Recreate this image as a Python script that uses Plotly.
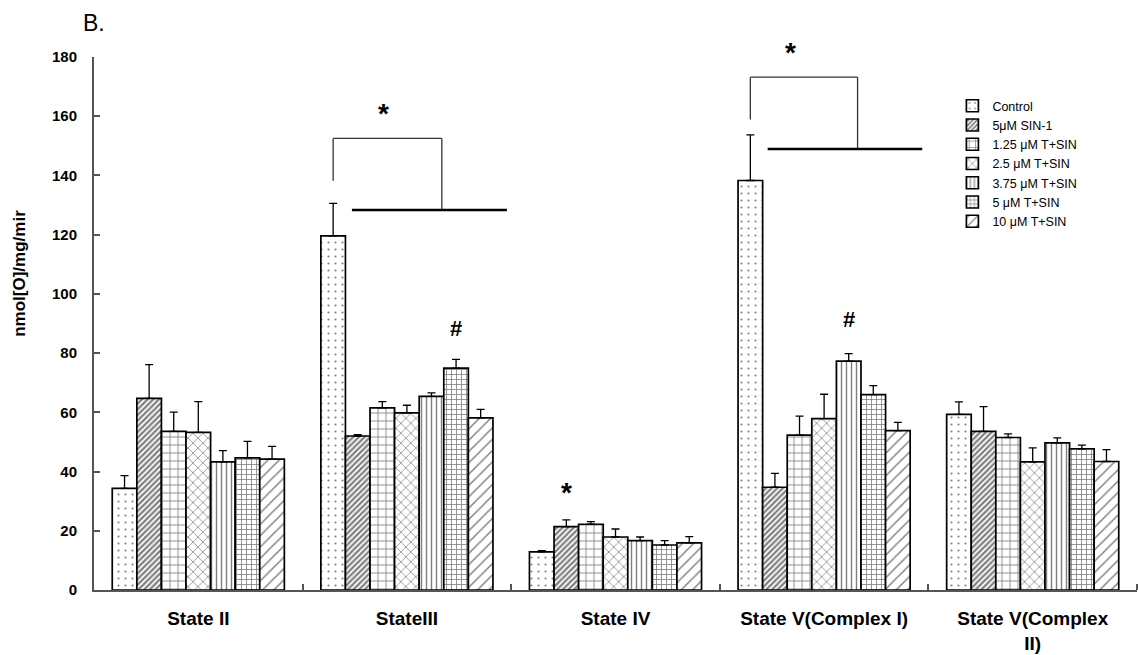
import plotly.graph_objects as go

# Respiratory states on the x axis
categories = ["State II", "StateIII", "State IV", "State V(Complex I)", "State V(Complex<br>II)"]

# Treatment groups (legend order)
treatments = ["Control", "5μM SIN-1", "1.25 μM T+SIN", "2.5 μM T+SIN",
              "3.75 μM T+SIN", "5 μM T+SIN", "10 μM T+SIN"]

# Mean values, nmol[O]/mg/min
control = [34.3, 119.6, 12.9, 138.3, 59.3]
sin1 = [64.7, 52.0, 21.4, 34.7, 53.6]
t_125 = [53.6, 61.5, 22.2, 52.3, 51.5]
t_25 = [53.2, 59.8, 17.9, 57.9, 43.3]
t_375 = [43.3, 65.4, 16.7, 77.3, 49.7]
t_5 = [44.6, 74.9, 15.2, 66.0, 47.7]
t_10 = [44.2, 58.1, 15.9, 53.8, 43.4]

# Standard errors (upper bars only)
control_err = [4.3, 11.0, 0.4, 15.4, 4.2]
sin1_err = [11.4, 0.5, 2.3, 4.7, 8.3]
t_125_err = [6.5, 2.1, 0.9, 6.4, 1.2]
t_25_err = [10.4, 2.6, 2.7, 8.2, 4.7]
t_375_err = [3.8, 1.2, 1.2, 2.5, 1.7]
t_5_err = [5.6, 3.0, 1.5, 3.0, 1.2]
t_10_err = [4.3, 2.9, 2.1, 2.8, 4.0]

y_ticks = [0, 20, 40, 60, 80, 100, 120, 140, 160, 180]

values = [control, sin1, t_125, t_25, t_375, t_5, t_10]
errors = [control_err, sin1_err, t_125_err, t_25_err, t_375_err, t_5_err, t_10_err]

# Black-and-white fill patterns, one per treatment
patterns = [
    dict(shape=".", size=7, solidity=0.07),
    dict(shape="/", size=4, solidity=0.55),
    dict(shape="+", size=8, solidity=0.2),
    dict(shape="x", size=7, solidity=0.2),
    dict(shape="|", size=5, solidity=0.28),
    dict(shape="+", size=5, solidity=0.3),
    dict(shape="/", size=8, solidity=0.18),
]

BARGAP = 0.175
n_series = len(treatments)
bar_w = (1 - BARGAP) / n_series


def bar_center(group, series):
    return group + (series - (n_series - 1) / 2) * bar_w


x_pos = list(range(len(categories)))

fig = go.Figure()
for name, vals, errs, pat in zip(treatments, values, errors, patterns):
    fig.add_trace(go.Bar(
        x=x_pos, y=vals, name=name,
        marker=dict(color="white",
                    line=dict(color="black", width=1.7),
                    pattern=dict(fgcolor="black", bgcolor="white", **pat)),
        error_y=dict(type="data", symmetric=False, array=errs,
                     arrayminus=[0] * len(errs), color="black",
                     thickness=1.3, width=4),
    ))

# Significance brackets: control vs. all treated groups
brackets = [
    dict(group=1, top=152.5, left_bottom=138.2, right_dx=0.521,
         line_y=128.3, line_dx0=0.09, line_dx1=0.833),
    dict(group=3, top=173.2, left_bottom=158.9, right_dx=0.514,
         line_y=148.9, line_dx0=0.083, line_dx1=0.824),
]
bracket_line = dict(color="#333333", width=1.3)
for b in brackets:
    x0 = bar_center(b["group"], 0)
    xr = x0 + b["right_dx"]
    fig.add_shape(type="line", x0=x0, x1=x0, y0=b["left_bottom"], y1=b["top"],
                  xref="x", yref="y", line=bracket_line)
    fig.add_shape(type="line", x0=x0, x1=xr, y0=b["top"], y1=b["top"],
                  xref="x", yref="y", line=bracket_line)
    fig.add_shape(type="line", x0=xr, x1=xr, y0=b["top"], y1=b["line_y"],
                  xref="x", yref="y", line=bracket_line)
    fig.add_shape(type="line", x0=x0 + b["line_dx0"], x1=x0 + b["line_dx1"],
                  y0=b["line_y"], y1=b["line_y"], xref="x", yref="y",
                  line=dict(color="black", width=2.5))

star_font = dict(family="Liberation Sans", size=28, color="black")
hash_font = dict(family="Liberation Sans", size=22, color="black")
marks = [
    dict(x=bar_center(1, 0) + 0.243, y=161.0 / 180, text="<b>*</b>", font=star_font),
    dict(x=bar_center(3, 0) + 0.191, y=181.4 / 180, text="<b>*</b>", font=star_font),
    dict(x=bar_center(2, 1), y=32.8 / 180, text="<b>*</b>", font=star_font),
    dict(x=bar_center(1, 5), y=88.4 / 180, text="<b>#</b>", font=hash_font),
    dict(x=bar_center(3, 4), y=91.2 / 180, text="<b>#</b>", font=hash_font),
]
for m in marks:
    fig.add_annotation(x=m["x"], y=m["y"], xref="x", yref="paper",
                       text=m["text"], font=m["font"], showarrow=False,
                       xanchor="center", yanchor="middle")

# Panel letter and y-axis title
fig.add_annotation(x=-0.0125, y=1.064, xref="paper", yref="paper", text="B.",
                   showarrow=False, xanchor="left", yanchor="middle",
                   font=dict(family="Liberation Sans", size=23, color="black"))
fig.add_annotation(x=-0.071, y=0.595, xref="paper", yref="paper",
                   text="<b>nmol[O]/mg/mir</b>", textangle=-90, showarrow=False,
                   xanchor="center", yanchor="middle",
                   font=dict(family="Liberation Sans", size=17, color="black"))

axis_color = "#555555"
fig.update_layout(
    width=1138, height=655,
    margin=dict(l=94, r=1, t=57, b=65),
    paper_bgcolor="white", plot_bgcolor="white",
    barmode="group", bargap=BARGAP, bargroupgap=0,
    font=dict(family="Liberation Sans", color="black"),
    showlegend=True,
    legend=dict(x=0.823, y=0.936, xanchor="left", yanchor="top",
                bgcolor="rgba(0,0,0,0)", borderwidth=0,
                font=dict(family="Liberation Sans", size=12.5, color="black"),
                traceorder="normal", tracegroupgap=0),
    xaxis=dict(range=[-0.5, 4.5], tickmode="array", tickvals=x_pos,
               ticktext=[f"<b>{c}</b>" for c in categories],
               ticks="", showgrid=False, zeroline=False,
               showline=True, linecolor=axis_color, linewidth=2,
               tickfont=dict(family="Liberation Sans", size=19, color="black"),
               ticklabelstandoff=10,
               minor=dict(tickmode="array",
                          tickvals=[i + 0.5 for i in x_pos],
                          ticks="inside", ticklen=6, tickcolor=axis_color,
                          tickwidth=1.5, showgrid=False)),
    yaxis=dict(range=[0, 180], tickmode="array", tickvals=y_ticks,
               ticktext=[f"<b>{v}</b>" for v in y_ticks],
               ticks="inside", ticklen=6, tickcolor=axis_color, tickwidth=1.5,
               showgrid=False, zeroline=False,
               showline=True, linecolor=axis_color, linewidth=2,
               tickfont=dict(family="Liberation Sans", size=15, color="black"),
               ticklabelstandoff=12),
)

fig.write_html("out.html")
